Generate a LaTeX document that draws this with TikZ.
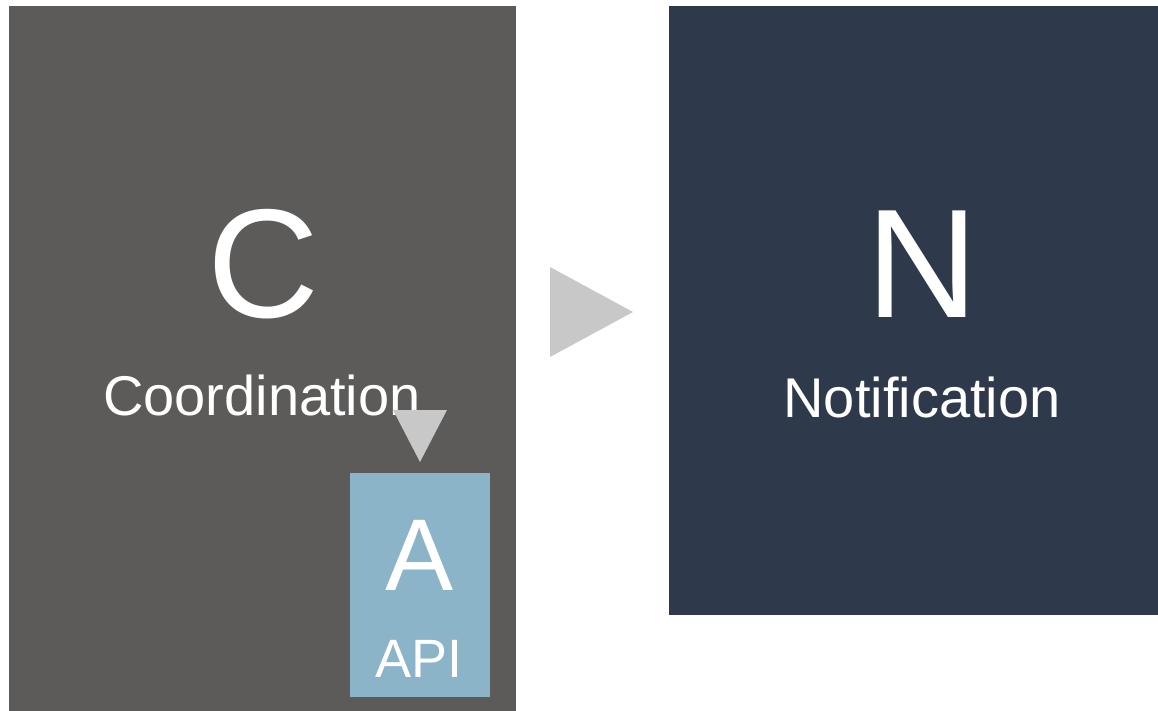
\documentclass[tikz,border=0pt]{standalone}
\usepackage{fontspec}
\setmainfont{Liberation Sans}
\definecolor{cgray}{HTML}{5D5B59}
\definecolor{cnavy}{HTML}{2E3A4C}
\definecolor{capi}{HTML}{8CB4C9}
\definecolor{carrow}{HTML}{C8C8C8}
\begin{document}
\begin{tikzpicture}[x=1pt,y=-1pt,
  box/.style={inner sep=0pt,outer sep=0pt},
  bigletter/.style={text=white,inner sep=0pt,anchor=base,font=\fontsize{155}{155}\selectfont},
  label/.style={text=white,inner sep=0pt,anchor=base,font=\fontsize{56}{56}\selectfont},
  tri/.style={fill=carrow,draw=none}]
\useasboundingbox (0,0) rectangle (1158,711);
% boxes
\fill[cgray] (9,6) rectangle (516,711);
\coordinate (cbox) at (262,360);
\fill[cnavy] (669,6) rectangle (1158,615);
\fill[capi] (350,473) rectangle (490,697);
% texts
\node[bigletter] (C) at (263,317) {C};
\node[label] (coord) at (262,415) {Coordination};
\node[bigletter] (N) at (922,317) {N};
\node[label] (notif) at (922,417) {Notification};
\node[bigletter,font=\fontsize{102}{102}\selectfont] (A) at (420,590) {A};
\node[label,font=\fontsize{54}{54}\selectfont] (api) at (419,677) {API};
% arrows
\fill[tri] (393,410) -- (447,410) -- (420,462) -- cycle;
\fill[tri] (550,267) -- (633,312) -- (550,357) -- cycle;
\end{tikzpicture}
\end{document}
